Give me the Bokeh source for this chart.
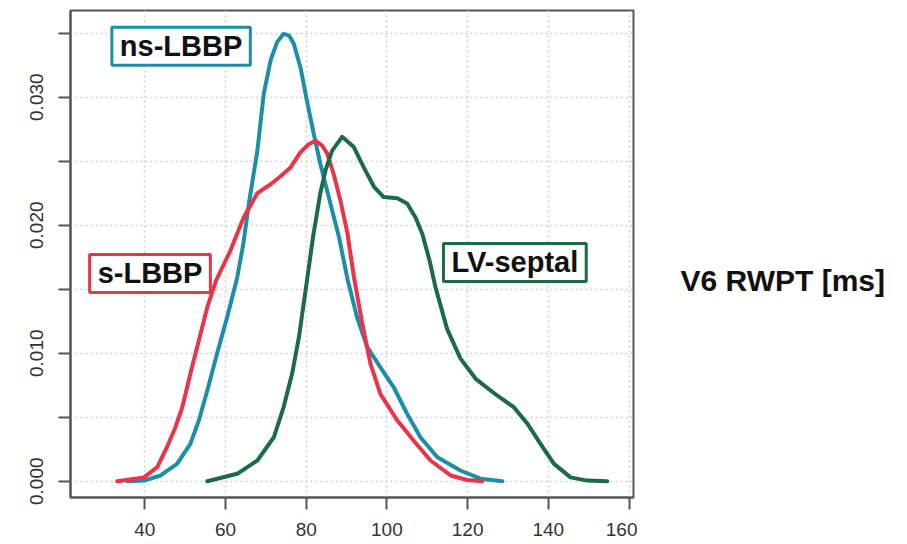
from bokeh.plotting import figure
from bokeh.layouts import row
from bokeh.models import FixedTicker, NumeralTickFormatter, Label, Range1d
from bokeh.core.properties import value
from bokeh.embed import file_html
from bokeh.resources import INLINE

# ---- data (density curves, V6 RWPT in ms) ----
ns_x = [35.6, 39.8, 43.9, 48.0, 51.3, 53.4, 55.5, 57.9, 60.4, 62.9, 64.4, 65.8, 67.9, 69.5, 71.2,
        72.8, 74.4, 75.8, 76.9, 78.6, 80.2, 81.9, 83.5, 86.0, 88.1, 90.3, 92.6, 95.1, 98.4, 101.7,
        105.0, 108.3, 112.5, 118.2, 123.2, 128.6]
ns_y = [0.0, 0.00005, 0.00045, 0.00136, 0.00292, 0.00474, 0.00709, 0.00995, 0.0128, 0.0159, 0.0185,
        0.0217, 0.0258, 0.0303, 0.0329, 0.0343, 0.03495, 0.0348, 0.0342, 0.0323, 0.0297, 0.0271,
        0.0248, 0.0217, 0.0191, 0.0157, 0.0128, 0.0105, 0.0089, 0.00734, 0.00527, 0.00344, 0.00188,
        0.00084, 0.0002, 0.0]

s_x = [33.2, 39.8, 43.1, 45.5, 47.6, 49.3, 51.3, 53.4, 55.5, 57.7, 61.2, 64.5, 67.9, 71.2, 73.6,
       76.1, 78.6, 80.5, 82.3, 84.0, 85.2, 86.8, 88.5, 90.2, 91.8, 93.9, 95.9, 98.4, 102.6, 106.6,
       110.8, 115.8, 119.9, 123.6]
s_y = [0.0, 0.0003, 0.0011, 0.00266, 0.00422, 0.00578, 0.00839, 0.0110, 0.0136, 0.0157, 0.0180,
       0.0206, 0.0225, 0.0232, 0.0238, 0.0245, 0.0257, 0.0263, 0.0266, 0.0262, 0.0256, 0.0240,
       0.0219, 0.0194, 0.0160, 0.0123, 0.0092, 0.0068, 0.00474, 0.00318, 0.00162, 0.00045, 0.0001,
       0.0]

lv_x = [55.5, 62.9, 67.9, 72.0, 74.4, 76.5, 78.2, 80.2, 81.7, 82.5, 83.5, 84.8, 86.4, 88.9, 91.8,
        94.3, 96.8, 99.2, 102.6, 105.0, 107.1, 108.8, 110.6, 112.0, 114.9, 118.2, 122.0, 127.3,
        131.4, 134.8, 138.1, 141.4, 145.5, 149.6, 154.6]
lv_y = [0.0, 0.00058, 0.00162, 0.00344, 0.00578, 0.00839, 0.01125, 0.0157, 0.0191, 0.0206, 0.0225,
        0.0243, 0.0258, 0.0269, 0.0261, 0.0245, 0.0230, 0.0222, 0.0221, 0.0217, 0.0206, 0.0193,
        0.0172, 0.0152, 0.0119, 0.0096, 0.0080, 0.0067, 0.0058, 0.0045, 0.0029, 0.00136, 0.0003,
        0.00005, 0.0]

x_ticks = [40, 60, 80, 100, 120, 140, 160]
y_major_ticks = [0.0, 0.01, 0.02, 0.03]
y_minor_ticks = [0.005, 0.015, 0.025, 0.035]

series_names = ["ns-LBBP", "s-LBBP", "LV-septal"]
axis_title = "V6 RWPT [ms]"

TEAL = "#1c8ea8"
RED = "#eb3349"
GREEN = "#1b6b46"
FONT = "Liberation Sans"

p = figure(width=637, height=544, output_backend="svg", toolbar_location=None,
           x_range=Range1d(21.6, 161.1), y_range=Range1d(-0.00127, 0.03677),
           min_border_left=70, min_border_right=4, min_border_top=10, min_border_bottom=47)

p.background_fill_color = "white"
p.border_fill_color = "white"
p.outline_line_color = "#555555"
p.outline_line_width = 2

for ax in (p.xaxis[0], p.yaxis[0]):
    ax.axis_line_color = "#555555"
    ax.axis_line_width = 2
    ax.major_tick_line_color = "#555555"
    ax.major_tick_line_width = 2
    ax.major_tick_out = 12
    ax.major_tick_in = 0
    ax.minor_tick_line_color = "#555555"
    ax.minor_tick_line_width = 2
    ax.minor_tick_out = 12
    ax.minor_tick_in = 0
    ax.major_label_text_font = FONT
    ax.major_label_text_font_size = "19px"
    ax.major_label_text_color = "#333333"

p.xaxis.ticker = FixedTicker(ticks=x_ticks, minor_ticks=[])
p.xaxis.major_label_standoff = 13
p.yaxis.ticker = FixedTicker(ticks=y_major_ticks, minor_ticks=y_minor_ticks)
p.yaxis.formatter = NumeralTickFormatter(format="0.000")
p.yaxis.major_label_orientation = "vertical"
p.yaxis.major_label_standoff = 15

for g in (p.xgrid[0], p.ygrid[0]):
    g.grid_line_color = "#cfcfcf"
    g.grid_line_dash = "2 3"
    g.grid_line_width = 1.5
p.ygrid.minor_grid_line_color = "#cfcfcf"
p.ygrid.minor_grid_line_dash = "2 3"
p.ygrid.minor_grid_line_width = 1.5

p.line(ns_x, ns_y, line_color=TEAL, line_width=4, line_join="round", line_cap="round")
p.line(s_x, s_y, line_color=RED, line_width=4, line_join="round", line_cap="round")
p.line(lv_x, lv_y, line_color=GREEN, line_width=4, line_join="round", line_cap="round")


def boxed(text, x, y, color):
    return Label(x=x, y=y, text=text, text_align="center", text_baseline="middle",
                 text_font=FONT, text_font_style="bold", text_font_size="29px",
                 text_color="#111111", background_fill_color="white",
                 border_line_color=color, border_line_width=3,
                 padding=dict(left=8, right=8, top=3, bottom=3))


p.add_layout(boxed(series_names[0], 49.0, 0.03398, TEAL))
p.add_layout(boxed(series_names[1], 41.3, 0.01623, RED))
p.add_layout(boxed(series_names[2], 131.7, 0.01709, GREEN))

# side panel carrying the axis title
side = figure(width=270, height=544, output_backend="svg", toolbar_location=None,
              x_range=Range1d(0, 270), y_range=Range1d(0, 544),
              x_axis_location=None, y_axis_location=None, min_border=0)
side.grid.visible = False
side.outline_line_color = None
side.background_fill_color = "white"
side.border_fill_color = "white"
side.text(x=[43], y=[242], text=[axis_title], text_align="left", text_baseline="middle",
          text_font=value(FONT), text_font_style="bold", text_font_size="30px",
          text_color="#111111")

open("out.html", "w").write(file_html(row(p, side), INLINE))
